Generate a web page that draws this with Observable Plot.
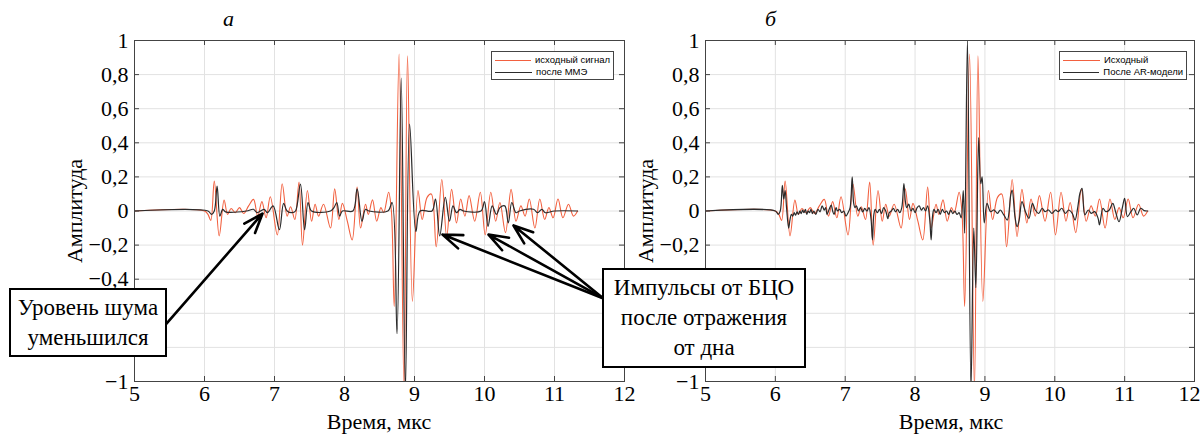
<!DOCTYPE html>
<html>
<head>
<meta charset="utf-8">
<script src="https://cdn.jsdelivr.net/npm/d3@7"></script>
<script src="https://cdn.jsdelivr.net/npm/@observablehq/plot@0.6"></script>
<style>
  body { margin: 0; background: #fff; }
  #wrap { position: relative; width: 1203px; height: 436px; overflow: hidden; font-family: "Liberation Serif", "Times New Roman", serif; color: #000; }
  .panel { position: absolute; top: 0; }
  .ttl { position: absolute; font-style: italic; font-size: 22px; line-height: 1; }
  .ylab { position: absolute; font-size: 22px; line-height: 1; transform: translate(-50%, -50%) rotate(-90deg); white-space: nowrap; }
  .xlab { position: absolute; font-size: 22px; line-height: 1; transform: translate(-50%, -50%); white-space: nowrap; }
  .legend { position: absolute; border: 1px solid #444; background: #fff; font-family: "Liberation Sans", Arial, sans-serif; font-size: 9.5px; line-height: 12px; padding: 2px 3px; box-sizing: border-box; }
  .legend div { display: flex; align-items: center; white-space: nowrap; }
  .legend span.sw { display: inline-block; width: 37px; height: 0; margin-right: 4px; }
  .note { position: absolute; border: 2px solid #000; background: #fff; font-size: 23px; line-height: 30px; text-align: center; box-sizing: border-box; display: flex; flex-direction: column; justify-content: center; z-index: 5; }
</style>
</head>
<body>
<div id="wrap"></div>
<script>
// Time axis (µs) and amplitude axis ticks
const xTicks = [5, 6, 7, 8, 9, 10, 11, 12];
const yTicks = [-1, -0.8, -0.6, -0.4, -0.2, 0, 0.2, 0.4, 0.6, 0.8, 1];
// Tick labels that stay hidden behind the note boxes are not printed
const yLabelsA = [-1, -0.4, -0.2, 0, 0.2, 0.4, 0.6, 0.8, 1];
const yLabelsB = [-1, -0.2, 0, 0.2, 0.4, 0.6, 0.8, 1];

// Original signal: time (µs) and amplitude at its turning points
const srcT = [5, 6.0, 6.05, 6.09, 6.14, 6.21, 6.28, 6.33, 6.38, 6.44, 6.50, 6.56, 6.63, 6.70, 6.76, 6.82, 6.88, 6.94, 7.04, 7.11, 7.18, 7.23, 7.29, 7.35, 7.40, 7.47, 7.53, 7.58, 7.63, 7.70, 7.80, 7.86, 7.92, 7.97, 8.04, 8.11, 8.18, 8.23, 8.30, 8.34, 8.40, 8.46, 8.52, 8.56, 8.63, 8.67, 8.71, 8.78, 8.85, 8.90, 8.97, 9.05, 9.11, 9.18, 9.24, 9.31, 9.39, 9.46, 9.53, 9.60, 9.66, 9.72, 9.78, 9.86, 9.94, 10.01, 10.09, 10.16, 10.22, 10.30, 10.38, 10.45, 10.52, 10.58, 10.64, 10.72, 10.79, 10.86, 10.92, 10.98, 11.05, 11.12, 11.20, 11.27, 11.33];
const srcA = [0, 0, -0.02, -0.055, 0.175, -0.146, 0.064, -0.02, 0.015, -0.01, 0.02, -0.015, 0.03, 0.068, -0.03, 0.055, -0.04, 0.084, -0.14, 0.16, -0.03, 0.025, -0.05, 0.17, -0.2, 0.12, -0.06, 0.04, -0.03, 0.04, -0.10, 0.13, -0.05, 0.045, -0.06, -0.17, 0.14, -0.10, 0.04, -0.02, 0.065, -0.06, 0.02, -0.01, 0.11, 0.0, -0.56, 0.92, -1.05, 0.91, -0.53, 0.12, -0.05, 0.08, 0.10, -0.21, 0.185, -0.15, 0.127, -0.07, 0.07, -0.03, 0.09, -0.06, 0.11, -0.14, 0.11, -0.06, 0.05, -0.127, 0.127, -0.06, 0.03, -0.03, 0.07, -0.10, 0.07, -0.05, 0.02, -0.04, 0.07, -0.04, 0.04, -0.03, 0.0];

// After minimum-entropy processing (panel а)
const mmeT = [5, 6.05, 6.10, 6.14, 6.18, 6.22, 6.26, 6.30, 6.6, 6.7, 6.75, 6.85, 6.9, 6.98, 7.07, 7.13, 7.18, 7.25, 7.30, 7.37, 7.43, 7.48, 7.53, 7.8, 7.85, 7.89, 7.93, 7.97, 8.12, 8.18, 8.25, 8.30, 8.35, 8.62, 8.68, 8.75, 8.81, 8.87, 8.93, 9.02, 9.08, 9.25, 9.30, 9.36, 9.44, 9.50, 9.55, 9.60, 9.65, 9.7, 9.95, 10.0, 10.05, 10.11, 10.17, 10.22, 10.29, 10.34, 10.39, 10.45, 10.5, 10.7, 10.76, 10.82, 10.87, 11.0, 11.33];
const mmeA = [0, 0, -0.02, 0.0, 0.146, -0.03, 0.01, -0.005, 0, 0.01, -0.01, 0.01, -0.01, 0.03, -0.11, 0.045, 0.0, -0.01, 0.0, 0.158, -0.11, 0.05, 0, 0, 0.02, 0.05, -0.03, 0, 0, 0.13, -0.06, 0.01, 0, 0, 0.05, -0.72, 0.78, -1.05, 0.51, -0.12, 0, 0, 0.07, -0.146, 0.08, -0.06, 0.03, -0.01, 0.01, 0, 0, 0.055, -0.09, 0.03, -0.02, 0.02, 0.03, -0.07, 0.05, -0.01, 0, 0.01, -0.01, 0.01, -0.01, 0, 0];

// After AR-model processing (panel б)
const arT = [5, 6.0, 6.04, 6.07, 6.10, 6.12, 6.14, 6.16, 6.19, 6.21, 6.23, 6.25, 6.27, 6.29, 6.31, 6.33, 6.35, 6.37, 6.39, 6.41, 6.43, 6.45, 6.47, 6.49, 6.51, 6.53, 6.55, 6.58, 6.61, 6.64, 6.67, 6.70, 6.72, 6.74, 6.77, 6.80, 6.82, 6.84, 6.87, 6.89, 6.92, 6.95, 6.98, 7.01, 7.04, 7.07, 7.10, 7.12, 7.14, 7.16, 7.19, 7.22, 7.25, 7.28, 7.31, 7.34, 7.37, 7.39, 7.41, 7.43, 7.46, 7.49, 7.52, 7.55, 7.58, 7.61, 7.63, 7.66, 7.69, 7.72, 7.75, 7.78, 7.81, 7.84, 7.86, 7.88, 7.91, 7.94, 7.97, 8.00, 8.03, 8.06, 8.09, 8.12, 8.15, 8.18, 8.21, 8.23, 8.25, 8.27, 8.30, 8.33, 8.36, 8.39, 8.42, 8.45, 8.48, 8.51, 8.54, 8.57, 8.60, 8.63, 8.66, 8.69, 8.71, 8.75, 8.80, 8.84, 8.87, 8.91, 8.94, 8.96, 8.99, 9.03, 9.08, 9.13, 9.18, 9.22, 9.27, 9.32, 9.37, 9.39, 9.43, 9.46, 9.49, 9.53, 9.58, 9.63, 9.68, 9.72, 9.77, 9.82, 9.86, 9.91, 9.96, 10.01, 10.05, 10.10, 10.15, 10.20, 10.25, 10.29, 10.33, 10.36, 10.39, 10.43, 10.48, 10.52, 10.57, 10.62, 10.64, 10.69, 10.73, 10.78, 10.83, 10.87, 10.92, 10.97, 11.00, 11.04, 11.09, 11.13, 11.18, 11.23, 11.28, 11.33];
const arA = [0, 0, -0.02, 0.0, 0.15, 0.07, 0.12, 0.02, -0.10, -0.05, -0.02, -0.03, -0.01, -0.025, -0.005, -0.02, 0.0, -0.015, 0.005, -0.01, 0.01, -0.02, 0.0, -0.01, 0.01, -0.015, 0.0, -0.02, 0.01, -0.005, 0.03, 0.005, 0.02, -0.02, 0.01, 0.035, 0.0, -0.02, 0.02, 0.0, 0.01, -0.01, 0.0, -0.03, -0.01, 0.02, 0.20, 0.05, 0.02, 0.03, 0.0, 0.02, -0.005, 0.015, 0.0, 0.02, -0.05, -0.17, -0.02, 0.01, -0.01, 0.01, -0.015, 0.02, 0.0, -0.045, -0.01, 0.0, 0.015, -0.005, 0.01, -0.01, 0.02, 0.16, 0.06, 0.02, 0.04, 0.0, 0.015, -0.01, 0.02, 0.03, 0.005, 0.02, 0.0, 0.03, -0.05, -0.17, -0.03, 0.01, -0.01, 0.01, -0.02, 0.01, -0.01, 0.0, -0.02, 0.005, -0.015, 0.0, -0.02, -0.01, -0.04, 0.12, -0.13, 1.0, -1.05, -0.1, -0.45, 0.43, 0.16, 0.2, -0.07, 0.045, -0.004, 0.006, -0.014, 0.006, -0.023, -0.053, 0.094, 0.123, -0.033, -0.092, -0.053, 0.055, -0.004, -0.043, 0.045, 0.006, -0.014, 0.016, -0.004, 0.006, -0.014, 0.006, -0.004, 0.016, -0.014, 0.006, -0.014, -0.053, 0.025, 0.104, 0.133, -0.023, 0.006, -0.014, -0.004, -0.043, -0.082, 0.016, -0.004, 0.006, 0.045, -0.004, -0.063, 0.025, 0.074, -0.033, -0.004, 0.016, -0.023, 0.016, 0.002, 0.0];

// Annotation arrows (panel а): from the label boxes to signal features
const arrowFromT = [5.457, 11.70, 11.70, 11.70];
const arrowFromA = [-0.66, -0.513, -0.513, -0.513];
const arrowToT = [6.829, 9.40, 10.057, 10.414];
const arrowToA = [-0.015, -0.138, -0.138, -0.085];

const toRows = (T, A) => T.map((t, i) => ({t, a: A[i]}));
const src = toRows(srcT, srcA);
const mme = toRows(mmeT, mmeA);
const ar = toRows(arT, arA);
const arrows = arrowFromT.map((t, i) => ({x1: t, y1: arrowFromA[i], x2: arrowToT[i], y2: arrowToA[i]}));

const RED = "#f2603f";
const DARK = "#2b2b2b";
const fmtY = d => d === 0 ? "0" : (d < 0 ? "\u2212" : "") + String(Math.abs(d)).replace(".", ",");

function panel({width, marginLeft, marginRight, second, yLabels, xAxes, extra = []}) {
  const dx = 0.0714, dy = 0.0293; // inner tick lengths (5 px) in data units
  return Plot.plot({
    width, height: 436,
    marginLeft, marginRight, marginTop: 40, marginBottom: 55,
    style: {background: "transparent", overflow: "visible", fontFamily: "'Liberation Serif', 'Times New Roman', serif", fontSize: "22px", color: "#000"},
    x: {domain: [5, 12], label: null},
    y: {domain: [-1, 1], label: null},
    marks: [
      Plot.ruleX(xTicks, {stroke: "#e2e2e2", strokeWidth: 1}),
      Plot.ruleY(yTicks, {stroke: "#e2e2e2", strokeWidth: 1}),
      Plot.line(src, {x: "t", y: "a", stroke: RED, strokeWidth: 1.1, curve: "catmull-rom", clip: true}),
      Plot.line(second, {x: "t", y: "a", stroke: DARK, strokeWidth: 1.2, curve: "catmull-rom", clip: true}),
      // inner ticks on all four sides
      Plot.ruleX(xTicks, {y1: -1, y2: -1 + dy, stroke: "#444"}),
      Plot.ruleX(xTicks, {y1: 1, y2: 1 - dy, stroke: "#444"}),
      Plot.ruleY(yTicks, {x1: 5, x2: 5 + dx, stroke: "#444"}),
      Plot.ruleY(yTicks, {x1: 12, x2: 12 - dx, stroke: "#444"}),
      Plot.frame({stroke: "#444"}),
      ...xAxes,
      Plot.axisY(yLabels, {tickSize: 0, tickPadding: 6, tickFormat: fmtY, label: null}),
      ...extra
    ]
  });
}

const wrap = document.getElementById("wrap");

const a = panel({
  width: 640, marginLeft: 134, marginRight: 16, second: mme, yLabels: yLabelsA,
  xAxes: [Plot.axisX(xTicks, {tickSize: 0, tickPadding: 4, label: null})],
  extra: [Plot.arrow(arrows, {x1: "x1", y1: "y1", x2: "x2", y2: "y2", stroke: "#000", strokeWidth: 2.6, headLength: 12, headAngle: 40})]
});
a.classList.add("panel"); a.style.left = "0px";
wrap.appendChild(a);

const b = panel({
  width: 563, marginLeft: 65, marginRight: 9, second: ar, yLabels: yLabelsB,
  xAxes: [
    Plot.axisX(xTicks.slice(0, -1), {tickSize: 0, tickPadding: 4, label: null}),
    Plot.axisX(xTicks.slice(-1), {tickSize: 0, tickPadding: 4, label: null, textAnchor: "end", dx: 6})
  ]
});
b.classList.add("panel"); b.style.left = "640px";
wrap.appendChild(b);

function html(cls, text, css) {
  const el = document.createElement("div");
  el.className = cls;
  el.innerHTML = text;
  Object.assign(el.style, css);
  wrap.appendChild(el);
  return el;
}

html("ttl", "а", {left: "223px", top: "8px"});
html("ttl", "б", {left: "765px", top: "8px"});
html("ylab", "Амплитуда", {left: "75px", top: "211px"});
html("ylab", "Амплитуда", {left: "646px", top: "211px"});
html("xlab", "Время, мкс", {left: "379px", top: "422px"});
html("xlab", "Время, мкс", {left: "951px", top: "422px"});

const sw = c => `<span class="sw" style="border-top:1px solid ${c}"></span>`;
html("legend", `<div>${sw(RED)}исходный сигнал</div><div>${sw(DARK)}после ММЭ</div>`, {left: "491px", top: "51px", width: "123px", height: "29px"});
html("legend", `<div>${sw(RED)}Исходный</div><div>${sw(DARK)}После AR-модели</div>`, {left: "1059px", top: "51px", width: "128px", height: "29px"});

html("note", "<div>Уровень шума</div><div>уменьшился</div>", {left: "9px", top: "288px", width: "158px", height: "69px"});
html("note", "<div>Импульсы от БЦО</div><div>после отражения</div><div>от дна</div>", {left: "602px", top: "268px", width: "204px", height: "100px"});
</script>
</body>
</html>
